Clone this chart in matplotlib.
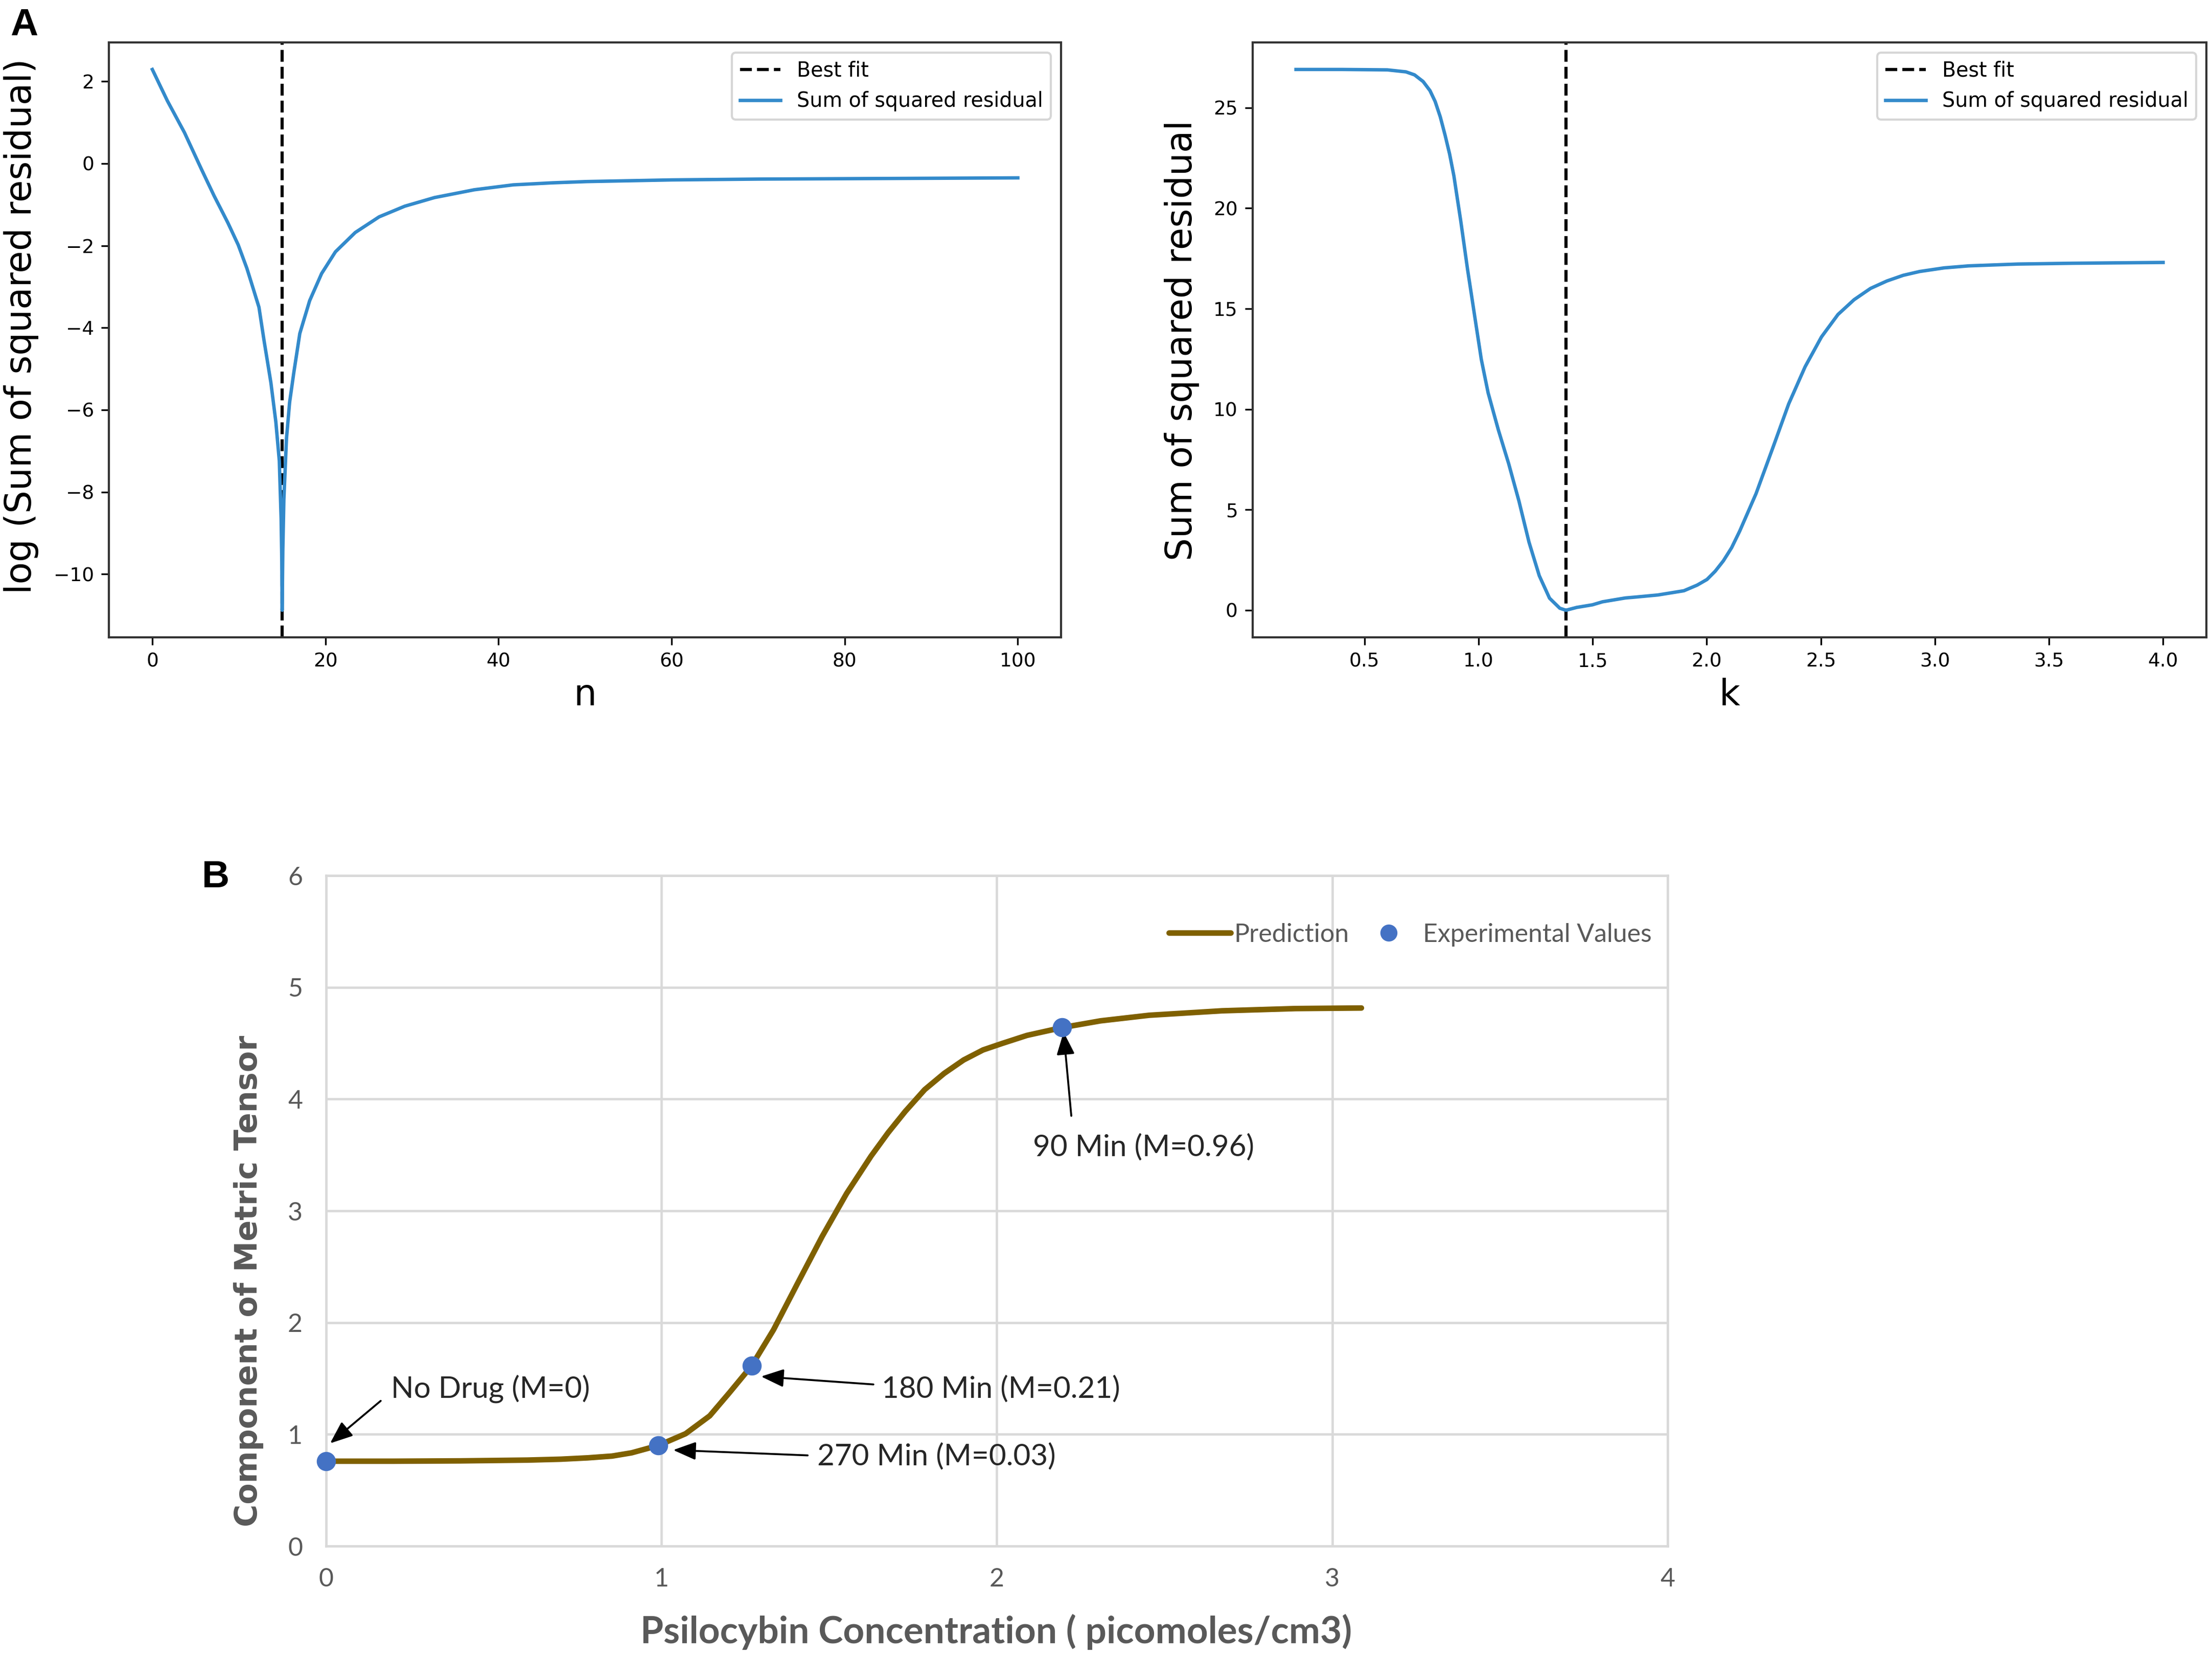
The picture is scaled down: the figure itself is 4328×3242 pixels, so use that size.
import matplotlib
matplotlib.use('Agg')
import matplotlib.pyplot as plt
from matplotlib.lines import Line2D

# ---------------- data ----------------
# Panel A (left): log of sum of squared residual vs n
n_vals = [0.0, 1.73, 3.72, 5.72, 7.12, 8.72, 9.92, 10.92, 11.72, 12.32, 12.9, 13.7,
          14.27, 14.67, 14.88, 14.96, 15.0, 15.08, 15.2, 15.5, 15.86, 16.35, 17.04,
          18.18, 19.56, 21.16, 23.45, 26.2, 29.17, 32.6, 37.2, 41.7, 46.3, 50.2,
          60, 70, 80, 90, 100]
log_ssr = [2.29, 1.53, 0.75, -0.16, -0.78, -1.44, -1.98, -2.55, -3.09, -3.50, -4.30,
           -5.34, -6.29, -7.24, -8.65, -9.70, -10.88, -9.40, -8.18, -6.70, -5.82,
           -5.09, -4.14, -3.34, -2.68, -2.15, -1.68, -1.30, -1.04, -0.83, -0.64,
           -0.52, -0.47, -0.44, -0.40, -0.38, -0.37, -0.36, -0.35]
best_n = 15

# Panel A (right): sum of squared residual vs k
k_vals = [0.20, 0.40, 0.60, 0.682, 0.7195, 0.757, 0.787, 0.81, 0.832, 0.854, 0.873,
          0.892, 0.922, 0.952, 0.982, 1.012, 1.042, 1.087, 1.132, 1.177, 1.221,
          1.266, 1.311, 1.356, 1.383, 1.43, 1.499, 1.543, 1.643, 1.693, 1.786,
          1.90, 1.958, 2.001, 2.037, 2.073, 2.109, 2.145, 2.216, 2.288, 2.359,
          2.431, 2.503, 2.575, 2.646, 2.718, 2.79, 2.861, 2.933, 3.04, 3.148,
          3.363, 3.604, 4.0]
ssr_k = [26.90, 26.90, 26.88, 26.78, 26.63, 26.3, 25.85, 25.3, 24.55, 23.6, 22.7,
         21.6, 19.36, 16.94, 14.71, 12.48, 10.81, 8.96, 7.29, 5.43, 3.39,
         1.72, 0.60, 0.10, 0.00, 0.14, 0.27, 0.42, 0.61, 0.66, 0.76,
         0.97, 1.25, 1.53, 1.94, 2.46, 3.11, 3.95, 5.80, 8.03, 10.26,
         12.11, 13.60, 14.71, 15.45, 16.01, 16.38, 16.66, 16.85, 17.03, 17.13,
         17.22, 17.26, 17.30]
best_k = 1.383

# Panel B: prediction curve and experimental values
conc_pred = [0.00, 0.20, 0.40, 0.60, 0.70, 0.78, 0.853, 0.911, 0.99, 1.072, 1.144,
             1.203, 1.269, 1.334, 1.406, 1.479, 1.515, 1.552, 1.625, 1.676, 1.727,
             1.785, 1.843, 1.901, 1.959, 2.018, 2.09, 2.195, 2.309, 2.454, 2.672,
             2.891, 3.087]
metric_pred = [0.76, 0.76, 0.763, 0.77, 0.778, 0.79, 0.806, 0.835, 0.90, 1.006, 1.166,
               1.374, 1.614, 1.935, 2.352, 2.77, 2.96, 3.155, 3.49, 3.70, 3.89,
               4.085, 4.23, 4.35, 4.44, 4.50, 4.57, 4.64, 4.70, 4.75, 4.79,
               4.81, 4.815]
conc_exp = [0.0, 0.99, 1.269, 2.195]
metric_exp = [0.76, 0.90, 1.614, 4.64]
exp_labels = ['No Drug (M=0)', '270 Min (M=0.03)', '180 Min (M=0.21)', '90 Min (M=0.96)']

# annotation layout: (text x, text y, arrow tail x, tail y, head x, head y)
annot_layout = [
    (0.193, 1.41, 0.163, 1.30, 0.012, 0.92),
    (1.465, 0.805, 1.436, 0.812, 1.035, 0.86),
    (1.656, 1.405, 1.632, 1.447, 1.297, 1.518),
    (2.108, 3.57, 2.222, 3.85, 2.199, 4.60),
]

# ---------------- figure ----------------
W, H, DPI = 4328, 3242, 300
fig = plt.figure(figsize=(W / DPI, H / DPI), dpi=DPI)
fig.patch.set_facecolor('white')

blue = '#338ACB'

# ---- Panel A left ----
ax1 = fig.add_axes([0.0493, 0.6154, 0.4304, 0.3590])
ax1.axvline(best_n, color='black', ls='--', lw=1.5, label='Best fit')
ax1.plot(n_vals, log_ssr, color=blue, lw=1.6, label='Sum of squared residual',
         solid_joinstyle='round')
ax1.set_xticks([0, 20, 40, 60, 80, 100])
ax1.set_yticks([-10, -8, -6, -4, -2, 0, 2])
ax1.tick_params(labelsize=9)
for s in ax1.spines.values():
    s.set_linewidth(1.0)
    s.set_color('#333333')
ax1.legend(loc='upper right', fontsize=9.5)

# ---- Panel A right ----
ax2 = fig.add_axes([0.5663, 0.6154, 0.4312, 0.3590])
ax2.axvline(best_k, color='black', ls='--', lw=1.5, label='Best fit')
ax2.plot(k_vals, ssr_k, color=blue, lw=1.6, label='Sum of squared residual',
         solid_joinstyle='round')
ax2.set_xticks([0.5, 1.0, 1.5, 2.0, 2.5, 3.0, 3.5, 4.0])
ax2.set_yticks([0, 5, 10, 15, 20, 25])
ax2.tick_params(labelsize=9)
for s in ax2.spines.values():
    s.set_linewidth(1.0)
    s.set_color('#333333')
ax2.legend(loc='upper right', fontsize=9.5)

fig.text(0.0095, 0.803, 'log (Sum of squared residual)', rotation=90,
         ha='center', va='center', fontsize=17)
fig.text(0.5344, 0.7946, 'Sum of squared residual', rotation=90,
         ha='center', va='center', fontsize=17)
fig.text(0.2646, 0.5802, 'n', ha='center', va='center', fontsize=17)
fig.text(0.7819, 0.5802, 'k', ha='center', va='center', fontsize=17)

# ---- Panel B ----
gray = '#595959'
gridc = '#D9D9D9'
ax3 = fig.add_axes([0.1474, 0.0669, 0.6065, 0.4047])
ax3.set_xlim(0, 4)
ax3.set_ylim(0, 6)
ax3.set_xticks([0, 1, 2, 3, 4])
ax3.set_yticks([0, 1, 2, 3, 4, 5, 6])
ax3.grid(True, color=gridc, lw=1.1)
ax3.set_axisbelow(True)
for s in ax3.spines.values():
    s.set_color(gridc)
    s.set_linewidth(1.1)
ax3.tick_params(length=0, pad=10, labelsize=12, labelcolor=gray)
for lab in ax3.get_xticklabels() + ax3.get_yticklabels():
    lab.set_family('Lato')
ax3.tick_params(axis='y', pad=11)

olive = '#7F6000'
dotc = '#4472C4'
ax3.plot(conc_pred, metric_pred, color=olive, lw=2.6, solid_capstyle='round',
         solid_joinstyle='round')
ax3.plot(conc_exp, metric_exp, 'o', color=dotc, ms=8, clip_on=False, zorder=5)

for lab, (tx, ty, ax_, ay_, hx, hy) in zip(exp_labels, annot_layout):
    ax3.annotate('', xy=(hx, hy), xytext=(ax_, ay_),
                 arrowprops=dict(arrowstyle='-|>,head_length=0.45,head_width=0.18',
                                 color='black', lw=0.9, mutation_scale=20,
                                 shrinkA=0, shrinkB=0))
    ax3.text(tx, ty, lab, ha='left', va='center', fontsize=14,
             family='Lato', color='#262626')

handles = [Line2D([], [], color=olive, lw=2.6, solid_capstyle='round'),
           Line2D([], [], ls='none', marker='o', color=dotc, ms=7)]
leg = ax3.legend(handles, ['Prediction', 'Experimental Values'], ncol=2,
                 loc='center right', bbox_to_anchor=(0.988, 0.912),
                 frameon=False, borderpad=0, borderaxespad=0,
                 handlelength=2.42, handletextpad=0.12, columnspacing=0.35,
                 prop={'family': 'Lato', 'size': 12})
for t in leg.get_texts():
    t.set_color(gray)

fig.text(0.4503, 0.0151, 'Psilocybin Concentration ( picomoles/cm3)',
         ha='center', va='center', fontsize=17.5, fontweight='bold',
         family='Lato', color=gray)
fig.text(0.1123, 0.227, 'Component of Metric Tensor', rotation=90,
         ha='center', va='center', fontsize=14.5, fontweight='bold', color=gray)

# panel letters
fig.text(0.0109, 0.9846, 'A', ha='center', va='center', fontsize=18,
         fontweight='bold', family='Liberation Sans')
fig.text(0.0975, 0.4704, 'B', ha='center', va='center', fontsize=18,
         fontweight='bold', family='Liberation Sans')

fig.savefig('out.png', dpi=DPI, facecolor='white')
